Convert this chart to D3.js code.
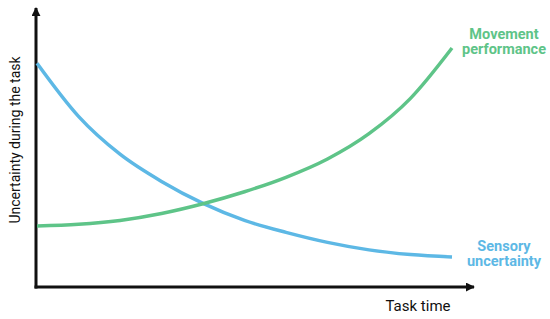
<!DOCTYPE html>
<html>
<head>
<meta charset="utf-8">
<script src="https://cdn.jsdelivr.net/npm/d3@7"></script>
<style>
    html, body { margin: 0; padding: 0; background: #fff; }
    svg { display: block; font-family: Roboto, 'Noto Sans', sans-serif; }
</style>
</head>
<body>
<div id="chart"></div>
<script>
'use strict';

// Task time (0-100), shared by both curves
const taskTime = [0, 10, 20, 30, 40, 50, 60, 70, 80, 90, 100];
const sensoryValues = [80.1, 61.0, 47.4, 37.6, 29.7, 23.6, 19.3, 15.7, 13.0, 11.3, 10.4];
const movementValues = [21.6, 22.2, 23.6, 26.1, 29.6, 33.9, 39.1, 45.7, 54.8, 67.5, 85.6];

const seriesNames = [['Movement', 'performance'], ['Sensory', 'uncertainty']];
const axisLabels = { x: 'Task time', y: 'Uncertainty during the task' };

const width = 550;
const height = 319;

const blue = '#5db8e5';
const green = '#5ec488';

function main() {
    let svg = d3.select('#chart')
        .append('svg')
        .attr('width', width)
        .attr('height', height);

    let x = d3.scaleLinear().domain([0, 100]).range([37, 452]);
    let y = d3.scaleLinear().domain([0, 100]).range([286, 8]);

    // Arrow heads for the axes
    svg.append('defs')
        .append('marker')
        .attr('id', 'arrow')
        .attr('viewBox', '0 0 10 10')
        .attr('refX', 9)
        .attr('refY', 5)
        .attr('markerWidth', 3)
        .attr('markerHeight', 3)
        .attr('markerUnits', 'strokeWidth')
        .attr('orient', 'auto')
        .append('path')
        .attr('d', 'M0,0 L10,5 L0,10 Z')
        .attr('fill', '#111');

    const axisX0 = 36;
    const axisY0 = 287;

    // y axis
    svg.append('line')
        .attr('x1', axisX0).attr('y1', axisY0 + 1.5)
        .attr('x2', axisX0).attr('y2', 8)
        .attr('stroke', '#111')
        .attr('stroke-width', 3)
        .attr('marker-end', 'url(#arrow)');

    // x axis
    svg.append('line')
        .attr('x1', axisX0 - 1.5).attr('y1', axisY0)
        .attr('x2', 474).attr('y2', axisY0)
        .attr('stroke', '#111')
        .attr('stroke-width', 3)
        .attr('marker-end', 'url(#arrow)');

    let line = d3.line()
        .x(d => x(d[0]))
        .y(d => y(d[1]))
        .curve(d3.curveMonotoneX);

    let sensory = taskTime.map((t, i) => [t, sensoryValues[i]]);
    let movement = taskTime.map((t, i) => [t, movementValues[i]]);

    svg.append('path')
        .attr('d', line(sensory))
        .attr('fill', 'none')
        .attr('stroke', blue)
        .attr('stroke-width', 3.5);

    svg.append('path')
        .attr('d', line(movement))
        .attr('fill', 'none')
        .attr('stroke', green)
        .attr('stroke-width', 3.5);

    // Series labels
    let movementLabel = svg.append('text')
        .attr('text-anchor', 'middle')
        .attr('font-size', 14.5)
        .attr('font-weight', 'bold')
        .attr('fill', green);
    seriesNames[0].forEach((s, i) => {
        movementLabel.append('tspan').attr('x', 504).attr('y', 39 + i * 15).text(s);
    });

    let sensoryLabel = svg.append('text')
        .attr('text-anchor', 'middle')
        .attr('font-size', 14.5)
        .attr('font-weight', 'bold')
        .attr('fill', blue);
    seriesNames[1].forEach((s, i) => {
        sensoryLabel.append('tspan').attr('x', 504).attr('y', 251 + i * 15).text(s);
    });

    // Axis titles
    svg.append('text')
        .attr('x', 418)
        .attr('y', 311)
        .attr('text-anchor', 'middle')
        .attr('font-size', 15)
        .attr('fill', '#111')
        .text(axisLabels.x);

    svg.append('text')
        .attr('transform', 'translate(20, 140) rotate(-90)')
        .attr('text-anchor', 'middle')
        .attr('font-size', 14)
        .attr('fill', '#111')
        .text(axisLabels.y);
}
main();
</script>
</body>
</html>
